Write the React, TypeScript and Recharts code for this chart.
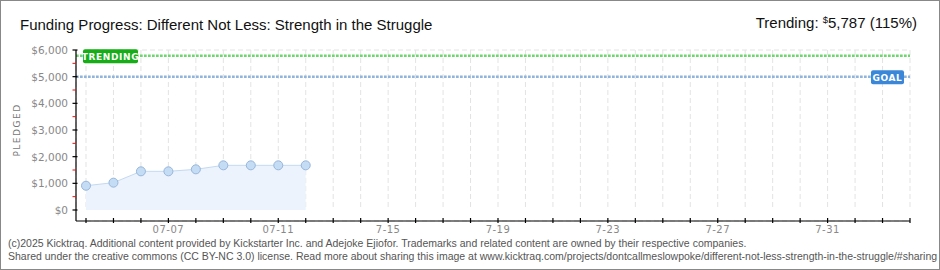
import { ComposedChart, Area, XAxis, YAxis, CartesianGrid, ReferenceLine } from 'recharts';

// days counted from 07-04
const pledgeDays = [0, 1, 2, 3, 4, 5, 6, 7, 8];
const pledgedValues = [910, 1025, 1450, 1450, 1525, 1675, 1675, 1675, 1675];

const dayTicks = [0, 1, 2, 3, 4, 5, 6, 7, 8, 9, 10, 11, 12, 13, 14, 15, 16, 17, 18, 19, 20, 21, 22, 23, 24, 25, 26, 27, 28, 29, 30];
const labelDays = [3, 7, 11, 15, 19, 23, 27];
const labelTexts = ['07-07', '07-11', '7-15', '7-19', '7-23', '7-27', '7-31'];

const yTicks = [0, 500, 1000, 1500, 2000, 2500, 3000, 3500, 4000, 4500, 5000, 5500, 6000];
const yGridValues = [0, 1000, 2000, 3000, 4000, 5000, 6000];

const goal = 5000;
const trending = 5787;
const trendingPct = 115;

const chartData = pledgeDays.map((day, i) => ({ day, pledged: pledgedValues[i] }));

const pixelFont = '"DejaVu Sans", sans-serif';
const textFont = '"Liberation Sans", sans-serif';

function YTick({ x, y, payload }: any) {
  const v = payload.value as number;
  if (v % 1000 !== 0) {
    return <line x1={x - 3.5} x2={x} y1={y} y2={y} stroke="#e01010" strokeWidth={1} />;
  }
  return (
    <g>
      <line x1={x - 3.5} x2={x + 1.5} y1={y} y2={y} stroke="#000" strokeWidth={1.2} />
      <text x={x - 8} y={y + 4} textAnchor="end" fontSize={10.5} fill="#888" fontFamily={pixelFont}>
        ${v.toLocaleString('en-US')}
      </text>
    </g>
  );
}

function XTick({ x, y, payload }: any) {
  const idx = labelDays.indexOf(payload.value);
  return (
    <g>
      <line x1={x} x2={x} y1={y - 3} y2={y + 2} stroke="#000" strokeWidth={1.2} />
      {idx >= 0 && (
        <text x={x} y={y + 12} textAnchor="middle" fontSize={10} fill="#888" fontFamily={pixelFont} letterSpacing={0.5}>
          {labelTexts[idx]}
        </text>
      )}
    </g>
  );
}

function BoxLabel({ viewBox, text, fill, width, align }: any) {
  const left = align === 'left' ? viewBox.x + 7 : viewBox.x + viewBox.width - 6 - width;
  const cy = viewBox.y + 0.5;
  return (
    <g>
      <rect x={left} y={cy - 7} width={width} height={14} rx={2} fill={fill} />
      <text x={left + width / 2} y={cy + 3.5} textAnchor="middle" fontSize={9} fontWeight="bold" fill="#fff" fontFamily={pixelFont} letterSpacing={0.6}>
        {text}
      </text>
    </g>
  );
}

export default function App() {
  return (
    <div style={{ position: 'absolute', left: 0, top: 0, width: 940, height: 270, background: '#fff' }}>
      <ComposedChart width={940} height={270} data={chartData} margin={{ top: 50, right: 30, bottom: 29, left: 0 }}>
        <CartesianGrid
          x={86}
          y={50}
          width={824}
          height={160}
          yAxisId="grid"
          stroke="#e3e3e3"
          strokeDasharray="5 3"
        />
        <XAxis
          dataKey="day"
          type="number"
          domain={[0, 30]}
          ticks={dayTicks}
          interval={0}
          padding={{ left: 10, right: 0 }}
          height={20}
          tickSize={0}
          tickMargin={0}
          tickLine={false}
          axisLine={{ stroke: '#000', strokeWidth: 1.2 }}
          tick={<XTick />}
        />
        <YAxis
          type="number"
          domain={[0, 6000]}
          ticks={yTicks}
          interval={0}
          padding={{ top: 0, bottom: 11 }}
          width={76}
          tickSize={0}
          tickMargin={0}
          tickLine={false}
          axisLine={{ stroke: '#000', strokeWidth: 1.2 }}
          tick={<YTick />}
        />
        <YAxis
          yAxisId="grid"
          type="number"
          domain={[0, 6000]}
          ticks={yGridValues}
          interval={0}
          padding={{ top: 0, bottom: 11 }}
          hide
        />
        <Area
          type="linear"
          dataKey="pledged"
          baseValue={0}
          fill="#edf3fc"
          fillOpacity={1}
          stroke="#c2d9f2"
          strokeWidth={1}
          dot={{ r: 4.5, fill: '#c5dcf5', stroke: '#97b6dc', strokeWidth: 1 }}
          activeDot={false}
          isAnimationActive={false}
        />
        <ReferenceLine
          y={goal}
          stroke="#91b4dc"
          strokeWidth={2.5}
          strokeDasharray="2.7 1.3"
          label={<BoxLabel text="GOAL" fill="#3a86d8" width={33} align="right" />}
        />
        <ReferenceLine
          y={trending}
          stroke="#6ed66e"
          strokeWidth={2.5}
          strokeDasharray="2.7 1.3"
          label={<BoxLabel text="TRENDING" fill="#16ad16" width={55} align="left" />}
        />
      </ComposedChart>
      <svg width={940} height={270} style={{ position: 'absolute', left: 0, top: 0, pointerEvents: 'none' }}>
        <text x={20} y={29.5} fontSize={15} fill="#111" fontFamily={textFont}>
          Funding Progress: Different Not Less: Strength in the Struggle
        </text>
        <text x={917} y={28} textAnchor="end" fontSize={15} fill="#111" fontFamily={textFont}>
          Trending:{' '}
          <tspan fontSize={9.5} dy={-5}>$</tspan>
          <tspan dy={5}>{trending.toLocaleString('en-US')} ({trendingPct}%)</tspan>
        </text>
        <text x={19.5} y={130} transform="rotate(-90 19.5 130)" textAnchor="middle" fontSize={9} fill="#777" fontFamily={pixelFont} letterSpacing={1.5}>
          PLEDGED
        </text>
        <text x={8} y={247} fontSize={10.5} fill="#555" fontFamily={textFont}>
          (c)2025 Kicktraq. Additional content provided by Kickstarter Inc. and Adejoke Ejiofor. Trademarks and related content are owned by their respective companies.
        </text>
        <text x={8} y={260} fontSize={10.5} fill="#555" fontFamily={textFont}>
          Shared under the creative commons (CC BY-NC 3.0) license. Read more about sharing this image at www.kicktraq.com/projects/dontcallmeslowpoke/different-not-less-strength-in-the-struggle/#sharing
        </text>
        <rect x={0.5} y={0.5} width={939} height={269} fill="none" stroke="#888" strokeWidth={1} />
      </svg>
    </div>
  );
}
